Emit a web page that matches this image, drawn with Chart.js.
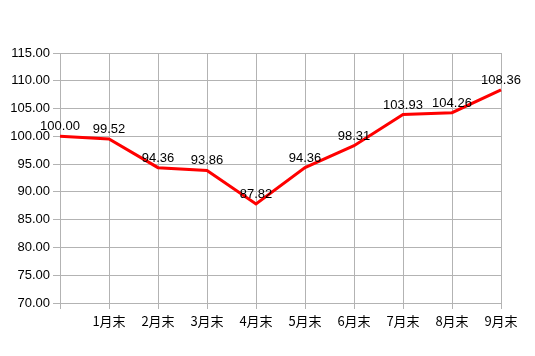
<!DOCTYPE html>
<html><head><meta charset="utf-8">
<script src="https://cdn.jsdelivr.net/npm/chart.js@4"></script>
<style>html,body{margin:0;padding:0;background:#fff}#wrap{width:535px;height:356px}</style>
</head><body><div id="wrap"><canvas id="c" width="535" height="356"></canvas></div>
<script>
const categories = ["", "1月末", "2月末", "3月末", "4月末", "5月末", "6月末", "7月末", "8月末", "9月末"];
const values = [100.00, 99.52, 94.36, 93.86, 87.82, 94.36, 98.31, 103.93, 104.26, 108.36];
const yMin = 70, yMax = 115, yStep = 5;

const labelPlugin = {
  id: 'pointLabels',
  afterDatasetsDraw(chart) {
    const ctx = chart.ctx;
    const meta = chart.getDatasetMeta(0);
    ctx.save();
    ctx.font = '13px "Liberation Sans", Arial, sans-serif';
    ctx.fillStyle = '#000';
    ctx.textAlign = 'center';
    ctx.textBaseline = 'alphabetic';
    meta.data.forEach((el, i) => {
      ctx.fillText(values[i].toFixed(2), el.x, el.y - 6);
    });
    ctx.restore();
  }
};

new Chart(document.getElementById('c'), {
  type: 'line',
  data: {
    labels: categories,
    datasets: [{
      data: values,
      borderColor: '#ff0000',
      borderWidth: 3,
      pointRadius: 0,
      tension: 0,
      fill: false
    }]
  },
  options: {
    responsive: false,
    animation: false,
    layout: { padding: { left: 0, right: 34, top: 0, bottom: 0 } },
    plugins: { legend: { display: false }, tooltip: { enabled: false } },
    scales: {
      x: {
        offset: false,
        grid: { color: '#b3b3b3', tickLength: 6, drawTicks: true },
        border: { color: '#b3b3b3' },
        ticks: { color: '#000', padding: 4, maxRotation: 0, autoSkip: false,
          font: { family: '"Noto Sans CJK JP", "Liberation Sans", sans-serif', size: 13 } },
        afterFit(s) { s.height = 53; }
      },
      y: {
        min: yMin, max: yMax,
        grid: { color: '#b3b3b3', tickLength: 7 },
        border: { color: '#b3b3b3' },
        ticks: { stepSize: yStep, color: '#000', padding: 3,
          font: { family: '"Liberation Sans", Arial, sans-serif', size: 13 },
          callback: v => Number(v).toFixed(2) },
        afterFit(s) { s.width = 60; s.paddingTop = 53; }
      }
    }
  },
  plugins: [labelPlugin]
});
</script></body></html>
